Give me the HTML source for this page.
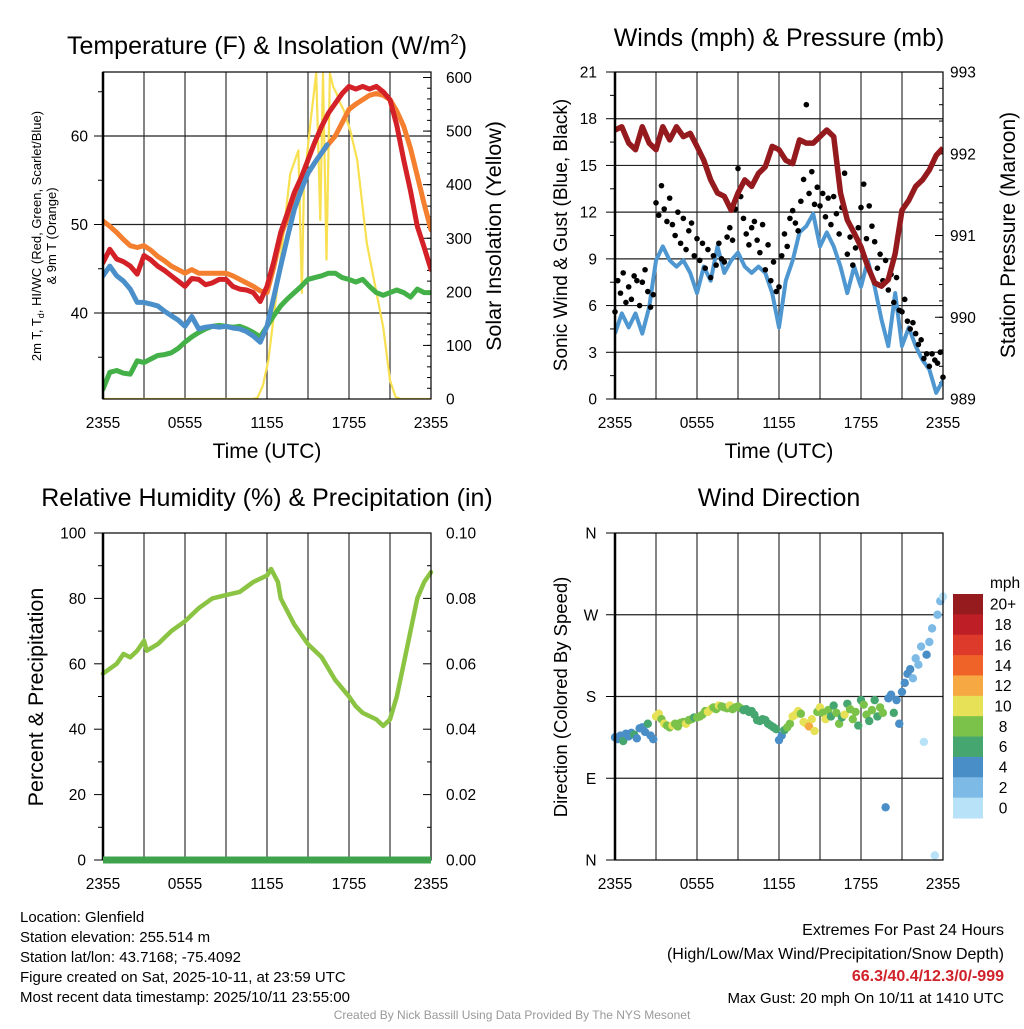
<!DOCTYPE html>
<html><head><meta charset="utf-8">
<style>
body{margin:0;background:#fff;width:1024px;height:1024px;overflow:hidden;font-family:"Liberation Sans",Arial,sans-serif}
svg text{font-family:"Liberation Sans",Arial,sans-serif;fill:#000}
</style></head>
<body>
<svg id="chart" width="1024" height="1024" viewBox="0 0 1024 1024" xmlns="http://www.w3.org/2000/svg">
<g id="texts">
<text x="267" y="54" font-size="25" text-anchor="middle">Temperature (F) &amp; Insolation (W/m<tspan font-size="15" dy="-10">2</tspan><tspan dy="10">)</tspan></text>
<text x="779" y="46" font-size="25" text-anchor="middle">Winds (mph) &amp; Pressure (mb)</text>
<text x="267" y="506" font-size="25" text-anchor="middle">Relative Humidity (%) &amp; Precipitation (in)</text>
<text x="779" y="506" font-size="25" text-anchor="middle">Wind Direction</text>
<text transform="translate(41,236) rotate(-90)" font-size="13" text-anchor="middle">2m T, T<tspan font-size="9" dy="3">d</tspan><tspan dy="-3">, HI/WC (Red, Green, Scarlet/Blue)</tspan></text>
<text transform="translate(56,236) rotate(-90)" font-size="13" text-anchor="middle">&amp; 9m T (Orange)</text>
<text transform="translate(501,236) rotate(-90)" font-size="21.5" text-anchor="middle">Solar Insolation (Yellow)</text>
<text x="267" y="458" font-size="21" text-anchor="middle">Time (UTC)</text>
<text x="779" y="458" font-size="21" text-anchor="middle">Time (UTC)</text>
<text transform="translate(567,235) rotate(-90)" font-size="19" text-anchor="middle">Sonic Wind &amp; Gust (Blue, Black)</text>
<text transform="translate(1015,235) rotate(-90)" font-size="21" text-anchor="middle">Station Pressure (Maroon)</text>
<text transform="translate(43,697) rotate(-90)" font-size="21.5" text-anchor="middle">Percent &amp; Precipitation</text>
<text transform="translate(567,697) rotate(-90)" font-size="18.5" text-anchor="middle">Direction (Colored By Speed)</text>
<g font-size="15">
<text x="20" y="922">Location: Glenfield</text>
<text x="20" y="942">Station elevation: 255.514 m</text>
<text x="20" y="962">Station lat/lon: 43.7168; -75.4092</text>
<text x="20" y="982">Figure created on Sat, 2025-10-11, at 23:59 UTC</text>
<text x="20" y="1002">Most recent data timestamp: 2025/10/11 23:55:00</text>
</g>
<g font-size="16" text-anchor="end">
<text x="1004" y="935">Extremes For Past 24 Hours</text>
<text x="1004" y="959">(High/Low/Max Wind/Precipitation/Snow Depth)</text>
<text x="1004" y="981" font-weight="bold" style="fill:#d0222a">66.3/40.4/12.3/0/-999</text>
<text x="1004" y="1003" font-size="15">Max Gust: 20 mph On 10/11 at 1410 UTC</text>
</g>
<text x="512" y="1019" font-size="12" text-anchor="middle" style="fill:#999">Created By Nick Bassill Using Data Provided By The NYS Mesonet</text>
</g>
</svg>
<script>
// ---------- data ----------
const hourTicks=["2355","0555","1155","1755","2355"];
const tempHours=[0,0.5,1,1.5,2,2.5,3,3.5,4,4.5,5,5.5,6,6.5,7,7.5,8,8.5,9,9.5,10,10.5,11,11.5,12,12.5,13,13.5,14,14.5,15,15.5,16,16.5,17,17.5,18,18.5,19,19.5,20,20.5,21,21.5,22,22.5,23,23.5,24];
const temp9m=[50.4,49.8,49.1,48.3,47.6,47.4,47.6,47.1,46.4,45.9,45.3,44.9,44.5,44.9,44.5,44.5,44.5,44.5,44.5,44.2,43.8,43.4,43.0,42.5,42.3,45.2,48.7,50.8,52.8,54.3,55.8,57.0,58.1,59.1,60.0,61.5,63.0,63.6,64.1,64.6,64.8,64.6,64.1,62.8,61.1,58.6,55.5,52.3,49.4];
const temp2m=[45.7,47.2,46.1,45.8,45.3,44.4,46.5,46.0,45.3,44.8,44.2,43.6,43.0,43.9,43.8,43.2,43.4,43.8,43.8,43.0,42.7,42.6,42.3,41.3,43.0,45.8,49.1,51.3,53.6,55.3,57.3,59.3,61.1,62.6,63.7,64.8,65.6,65.3,65.6,65.3,65.6,65.0,64.1,61.2,57.3,53.8,49.8,47.4,44.9];
const hiwcHours=[0,0.5,1,1.5,2,2.5,3,3.5,4,4.5,5,5.5,6,6.5,7,7.5,8,8.5,9,9.5,10,10.5,11,11.5,12,12.5,13,13.5,14,14.5,15,15.5,16,16.4];
const hiwc=[44.2,45.3,44.2,43.6,42.7,41.2,41.2,41.0,40.8,40.2,39.7,39.2,38.5,39.6,38.2,38.4,38.5,38.4,38.5,38.3,38.2,37.9,37.4,36.7,38.5,41.8,45.3,48.6,51.7,53.9,55.8,57.0,58.1,59.0];
const dewpt=[31.4,33.3,33.5,33.2,33.1,34.6,34.4,34.8,35.2,35.3,35.5,36.0,36.7,37.3,37.8,38.2,38.5,38.6,38.5,38.4,38.5,38.2,37.8,37.3,38.5,39.7,40.8,41.6,42.3,43.0,43.8,44.0,44.2,44.5,44.5,44.0,43.8,43.5,43.8,43.0,42.3,42.0,42.3,42.6,42.3,41.8,42.7,42.3,42.3];
const solarHours=[0,10.9,11.3,11.7,12.1,12.7,13.2,13.7,14.3,14.55,14.7,15.2,15.6,15.9,16.1,16.35,16.6,16.85,17.1,17.3,17.6,18.1,18.6,19.3,20.5,21.0,21.4,21.8,22.2,24];
const solar=[0,0,2,25,73,197,308,420,464,198,400,520,608,334,608,260,608,582,570,555,540,500,446,291,134,35,4,0,0,0];
const windHours=tempHours;
const windSpeed=[4.2,5.5,4.6,5.5,4.2,5.9,8.9,9.8,8.9,8.5,8.9,8.1,6.8,8.5,7.6,9.8,8.1,8.9,9.4,8.5,8.1,8.5,8.1,6.8,4.6,7.6,8.9,10.7,11.1,11.9,9.8,10.7,9.8,8.5,6.8,8.5,7.2,8.9,7.2,5.1,3.4,6.8,3.4,4.6,3.4,2.5,1.9,0.4,1.2];
const pressure=[992.29,992.33,992.13,992.05,992.33,992.13,992.05,992.33,992.17,992.33,992.21,992.25,992.09,991.92,991.68,991.52,991.48,991.31,991.52,991.68,991.60,991.76,991.84,992.09,992.05,991.92,991.88,992.17,992.13,992.13,992.21,992.29,992.21,991.52,991.19,991.03,990.86,990.62,990.42,990.38,990.46,990.78,991.31,991.43,991.60,991.68,991.80,991.98,992.07];
const gustStepHours=0.2;
const gusts=[5.6,7.6,6.8,8.1,6.2, 7.2,6.4,7.9,7.6,6.0, 7.5,8.3,6.9,5.9,6.7, 12.6,11.8,13.7,12.2,11.4, 12.9,11.2,10.5,12.0,10.0, 11.6,9.6,10.8,11.3,9.2, 10.3,8.9,10.0,8.4,9.6, 7.8,9.2,8.6,10.0,9.0, 8.8,10.4,11.0,10.2,12.2, 14.8,13.0,11.6,10.6,9.9, 11.0,11.4,10.2,9.4,11.2, 8.3,9.9,7.6,8.8,6.9, 7.2,9.2,10.6,9.8,11.6, 12.1,11.3,10.8,12.7,14.1, 18.9,13.2,14.6,12.5,13.6, 12.4,13.2,11.7,12.9,11.2, 13.0,11.9,10.6,12.3,14.5, 9.3,10.4,8.6,9.7,11.0, 12.3,13.8,10.3,12.4,11.1, 10.1,8.4,9.3,7.6,8.9, 7.0,8.0,6.2,7.8,5.7, 5.6,6.4,5.0,4.5,4.9, 4.2,3.5,3.8,2.6,2.9, 2.1,2.9,2.5,2.3,3.0, 1.4];
const rhHours=[0,1,1.5,2,2.5,3,3.2,4,5,6,7,8,9,10,11,12,12.3,12.8,13,14,15,16,17,18,18.5,19,20,20.5,21,21.5,22,22.5,23,23.5,24];
const rh=[57,60,63,62,64,67,64,66,70,73,77,80,81,82,85,87,89,85,80,72,66,62,55,50,47,45,43,41,43,50,60,70,80,85,88];
const precipHours=[0,24];
const precip=[0,0];
const dirStepHours=0.2;
const windDir=[135,133,137,131,139, 136,140,138,134,145, 146,141,150,137,133, 158,161,155,150,148, 146,148,150,147,151, 152,150,154,155,157, 157,158,160,164,163, 166,168,166,170,169, 168,167,170,166,168, 169,167,165,166,163, 164,160,154,153,155, 154,150,148,146,144, 132,137,143,146,150, 158,160,164,161,152, 150,147,155,142,163, 168,162,155,165,158, 170,162,150,157,160, 172,166,155,163,148, 176,171,160,153,165, 176,158,168,162,58, 178,182,162,176,150, 185,195,205,210,200, 222,215,235,130,226, 240,255,5,270,285, 290];
const dirSpeed=[4,5,4,6,5, 4,5,6,4,4, 5,4,6,4,4, 10,10,9,10,8, 9,10,8,8,9, 8,10,8,9,6, 8,8,9,8,10, 10,8,9,10,8, 9,8,10,8,9, 8,9,7,6,6, 6,6,7,6,6, 6,6,7,6,7, 4,5,6,8,9, 10,11,10,9,11, 11,13,10,11,8, 10,8,11,9,6, 6,9,8,7,10, 7,8,9,8,7, 6,9,8,7,8, 6,7,9,8,4, 5,4,6,4,4, 4,4,5,4,3, 3,2,3,1,4, 2,2,1,3,2, 1];
const speedLabels=["20+","18","16","14","12","10","8","6","4","2","0"];
const speedColors=["#b7e2f8","#7ebae6","#4a8ec8","#46a670","#7bc24b","#e6e157","#f6a843","#ef6329","#de3a2b","#be1e25","#951b1e"];
const dirLabels=["N","E","S","W","N"];

// ---------- helpers ----------
const NS="http://www.w3.org/2000/svg";
const svg=document.getElementById('chart');
const TF=15.5;
function mk(tag,attrs,parent){const e=document.createElementNS(NS,tag);for(const k in attrs)e.setAttribute(k,attrs[k]);(parent||svg).appendChild(e);return e;}
function lin(d0,d1,r0,r1){return v=>r0+(v-d0)*(r1-r0)/(d1-d0);}
function pathFrom(xs,ys,fx,fy){return xs.map((h,i)=>(i?'L':'M')+fx(h).toFixed(1)+','+fy(ys[i]).toFixed(1)).join('');}

function panel(name,x0,x1,y0,y1){
  const g=mk('g',{});
  
  
  const fx=lin(0,24,x0,x1);
  for(let h=3;h<24;h+=3){
    const l=mk('line',{x1:fx(h),x2:fx(h),y1:y0,y2:y1,stroke:'#333','stroke-width':1.2},g);
    
    
  }
  hourTicks.forEach((t,i)=>{
    const tx=mk('text',{x:fx(i*6),y:y1+29,'font-size':TF,'text-anchor':'middle'},g);
    tx.textContent=t;
    
    
  });
  return {g,fx};
}
function frame(g,x0,x1,y0,y1){
  const r=mk('rect',{x:x0,y:y0,width:x1-x0,height:y1-y0,fill:'none',stroke:'#000','stroke-width':1.2},g);
  
  
  mk('line',{x1:x0,x2:x0,y1:y0,y2:y1,stroke:'#000','stroke-width':2.5},g);
}
function hgrid(g,x0,x1,y){const l=mk('line',{x1:x0,x2:x1,y1:y,y2:y,stroke:'#222','stroke-width':1.2},g);}
function ylabel(g,x,y,t,anchor){const e=mk('text',{x:x,y:y+5.5,'font-size':TF,'text-anchor':anchor},g);e.textContent=t;}
function tick(g,x,y,len){mk('line',{x1:x,x2:x+len,y1:y,y2:y,stroke:'#000','stroke-width':1},g);}

// ---------- Panel 1: temperature ----------
(function(){
  const X0=103,X1=431,Y0=72,Y1=399;
  const {g,fx}=panel('temperature-panel',X0,X1,Y0,Y1);
  const fy=lin(40,60,313,136);
  const fs=lin(0,600,399,77.5);
  [40,50,60].forEach(v=>{hgrid(g,X0,X1,fy(v));ylabel(g,88,fy(v),String(v),'end');});
  for(let v=35;v<=65;v+=5)tick(g,X0,fy(v),v%10?-5:-9);
  for(let v=0;v<=600;v+=100){ylabel(g,446,fs(v),String(v),'start');tick(g,X1,fs(v),-8);}
  for(let v=0;v<=600;v+=20)tick(g,X1,fs(v),-4);
  const clip=mk('clipPath',{id:'c1'},g);mk('rect',{x:X0,y:Y0,width:X1-X0,height:Y1-Y0},clip);
  const series=[['dewpoint-line',tempHours,dewpt,'#44b048',fy],['temp-9m-line',tempHours,temp9m,'#f47f2f',fy],['temp-2m-line',tempHours,temp2m,'#d42027',fy],['hiwc-line',hiwcHours,hiwc,'#4a8fca',fy]];
  const sl=mk('path',{d:pathFrom(solarHours,solar,fx,fs),fill:'none',stroke:'#f8e050','stroke-width':2.2,'stroke-linejoin':'round','clip-path':'url(#c1)'},g);
  
  
  series.forEach(s=>{
    const p=mk('path',{d:pathFrom(s[1],s[2],fx,s[4]),fill:'none',stroke:s[3],'stroke-width':5,'stroke-linejoin':'round','stroke-linecap':'round','clip-path':'url(#c1)'},g);
    
    
  });
  frame(g,X0,X1,Y0,Y1);
})();

// ---------- Panel 2: wind & pressure ----------
(function(){
  const X0=615,X1=943,Y0=72,Y1=399;
  const {g,fx}=panel('wind-pressure-panel',X0,X1,Y0,Y1);
  const fy=lin(0,21,Y1,Y0);
  const fp=lin(989,993,Y1,Y0);
  for(let v=0;v<=21;v+=3){if(v>0&&v<21)hgrid(g,X0,X1,fy(v));ylabel(g,597,fy(v),String(v),'end');tick(g,X0,fy(v),-9);}
  for(let v=1.5;v<21;v+=3)tick(g,X0,fy(v),-5);
  for(let v=989;v<=993;v++){ylabel(g,950,fp(v),String(v),'start');tick(g,X1,fp(v),-8);}
  for(let v=989;v<993;v+=0.2)tick(g,X1,fp(v),-4);
  const clip=mk('clipPath',{id:'c2'},g);mk('rect',{x:X0,y:Y0,width:X1-X0,height:Y1-Y0},clip);
  const w=mk('path',{d:pathFrom(windHours,windSpeed,fx,fy),fill:'none',stroke:'#4f97d0','stroke-width':4,'stroke-linejoin':'round','clip-path':'url(#c2)'},g);
  
  
  gusts.forEach((v,i)=>{
    const c=mk('circle',{cx:fx(i*gustStepHours),cy:fy(v),r:2.8,fill:'#000'},g);
    
    
  });
  const p=mk('path',{d:pathFrom(windHours,pressure,fx,fp),fill:'none',stroke:'#951a1d','stroke-width':5.5,'stroke-linejoin':'round','clip-path':'url(#c2)'},g);
  
  
  frame(g,X0,X1,Y0,Y1);
})();

// ---------- Panel 3: RH & precip ----------
(function(){
  const X0=103,X1=431,Y0=533,Y1=860;
  const {g,fx}=panel('humidity-precip-panel',X0,X1,Y0,Y1);
  const fy=lin(0,100,Y1,Y0);
  const fq=lin(0,0.1,Y1,Y0);
  for(let v=0;v<=100;v+=20){ylabel(g,86,fy(v),String(v),'end');tick(g,X0,fy(v),-9);}
  for(let v=10;v<100;v+=20)tick(g,X0,fy(v),-5);
  for(let v=0;v<=0.1001;v+=0.02){ylabel(g,446,fq(v),v.toFixed(2),'start');tick(g,X1,fq(v),-8);}
  for(let v=0.01;v<0.1;v+=0.02)tick(g,X1,fq(v),-4);
  const r=mk('path',{d:pathFrom(rhHours,rh,fx,fy),fill:'none',stroke:'#8bc443','stroke-width':4.5,'stroke-linejoin':'round','stroke-linecap':'round'},g);
  
  
  frame(g,X0,X1,Y0,Y1);
  const q=mk('path',{d:pathFrom(precipHours,precip,fx,fq),fill:'none',stroke:'#3fa34d','stroke-width':7},g);
  
  
})();

// ---------- Panel 4: wind direction ----------
(function(){
  const X0=615,X1=943,Y0=533,Y1=860;
  const {g,fx}=panel('wind-direction-panel',X0,X1,Y0,Y1);
  const fy=lin(0,360,Y1,Y0);
  dirLabels.forEach((t,i)=>{const v=i*90;if(v>0&&v<360)hgrid(g,X0,X1,fy(v));ylabel(g,591,fy(v),t,'middle');tick(g,X0,fy(v),-9);});
  windDir.forEach((d,i)=>{
    const cls=Math.min(10,Math.floor(dirSpeed[i]/2));
    const c=mk('circle',{cx:fx(i*dirStepHours),cy:fy(d),r:4.2,fill:speedColors[cls]},g);
    
    
  });
  frame(g,X0,X1,Y0,Y1);
  const lg=mk('g',{},svg);
  
  
  const mt=mk('text',{x:990,y:588,'font-size':TF},lg);mt.textContent='mph';
  const bh=(818-594)/11;
  speedLabels.forEach((t,i)=>{
    mk('rect',{x:953,y:594+i*bh,width:30,height:bh+0.5,fill:speedColors[10-i]},lg);
    const tx=mk('text',{x:1003,y:594+i*bh+bh/2+5.5,'font-size':TF,'text-anchor':'middle'},lg);
    tx.textContent=t;
    
    
  });
})();
</script>
</body></html>
